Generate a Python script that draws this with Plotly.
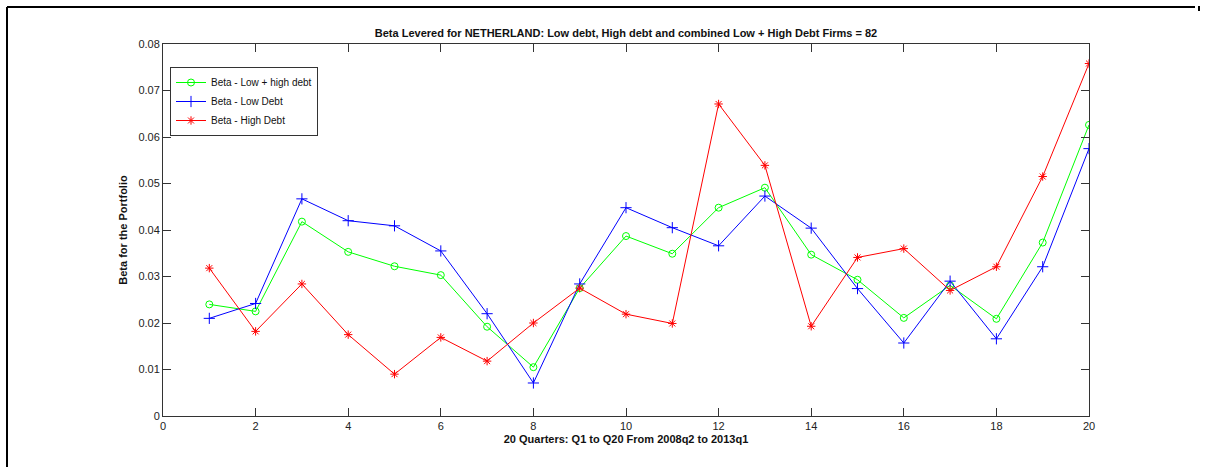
import plotly.graph_objects as go

quarters = list(range(1, 21))
beta_combined = [0.0240, 0.0225, 0.0418, 0.0353, 0.0322, 0.0303, 0.0192, 0.0105, 0.0275, 0.0387,
                 0.0349, 0.0448, 0.0491, 0.0347, 0.0293, 0.0211, 0.0281, 0.0209, 0.0373, 0.0626]
beta_low = [0.0210, 0.0242, 0.0467, 0.0420, 0.0409, 0.0355, 0.0220, 0.0071, 0.0284, 0.0448,
            0.0405, 0.0366, 0.0473, 0.0404, 0.0274, 0.0157, 0.0290, 0.0166, 0.0321, 0.0575]
beta_high = [0.0318, 0.0182, 0.0284, 0.0175, 0.0090, 0.0169, 0.0118, 0.0200, 0.0275, 0.0219,
             0.0199, 0.0671, 0.0539, 0.0193, 0.0341, 0.0360, 0.0270, 0.0321, 0.0515, 0.0758]
x_ticks = [0, 2, 4, 6, 8, 10, 12, 14, 16, 18, 20]
y_ticks = [0, 0.01, 0.02, 0.03, 0.04, 0.05, 0.06, 0.07, 0.08]

fig = go.Figure()
fig.add_trace(go.Scatter(x=quarters, y=beta_combined, mode="lines+markers", name="Beta - Low + high debt",
                         line=dict(color="#00ff00", width=1),
                         marker=dict(symbol="circle-open", size=7, color="#00ff00", line=dict(width=1, color="#00ff00"))))
fig.add_trace(go.Scatter(x=quarters, y=beta_low, mode="lines+markers", name="Beta - Low Debt",
                         line=dict(color="#0000ff", width=1),
                         marker=dict(symbol="cross-thin-open", size=8, color="#0000ff", line=dict(width=1, color="#0000ff"))))
fig.add_trace(go.Scatter(x=quarters, y=beta_high, mode="lines+markers", name="Beta - High Debt",
                         line=dict(color="#ff0000", width=1),
                         marker=dict(symbol="asterisk-open", size=7, color="#ff0000", line=dict(width=1, color="#ff0000"))))

narrow = "Liberation Sans Narrow, Arial Narrow, Liberation Sans, Arial, sans-serif"
axis_common = dict(showline=True, linecolor="#333333", linewidth=1, mirror="ticks", ticks="inside",
                   ticklen=8, tickcolor="#333333", showgrid=False, zeroline=False,
                   tickfont=dict(family="Liberation Sans, Arial, sans-serif", size=11, color="#222222"))

fig.update_layout(
    width=1205, height=467,
    paper_bgcolor="white", plot_bgcolor="white",
    margin=dict(l=163, r=116, t=44, b=51),
    title=dict(text="<b>Beta Levered for NETHERLAND: Low debt, High debt and combined Low + High Debt Firms = 82</b>",
               x=(163 + 1089) / 2 / 1205, xanchor="center", y=1 - 33 / 467, yanchor="middle",
               font=dict(family=narrow, size=11, color="#111111")),
    xaxis=dict(range=[0, 20], tickvals=x_ticks, ticktext=[str(v) for v in x_ticks],
               title=dict(text="<b>20 Quarters: Q1 to Q20 From 2008q2 to 2013q1</b>", standoff=4,
                          font=dict(family=narrow, size=11, color="#111111")),
               **axis_common),
    yaxis=dict(range=[0, 0.08], tickvals=y_ticks, ticktext=["0", "0.01", "0.02", "0.03", "0.04", "0.05", "0.06", "0.07", "0.08"],
               title=dict(text="<b>Beta for the Portfolio</b>", standoff=8,
                          font=dict(family=narrow, size=11, color="#111111")),
               **axis_common),
    legend=dict(x=7 / 926, y=1 - 23 / 372, xanchor="left", yanchor="top",
                bgcolor="white", bordercolor="#333333", borderwidth=1,
                font=dict(family="Liberation Sans, Arial, sans-serif", size=10, color="#111111"),
                tracegroupgap=0),
    showlegend=True,
)

# outer figure frame (MATLAB window border)
fig.add_shape(type="line", xref="paper", yref="paper", x0=(7 - 163) / 926, x1=(1195 - 163) / 926,
              y0=(416 - 7) / 372, y1=(416 - 7) / 372, line=dict(color="black", width=2))
fig.add_shape(type="line", xref="paper", yref="paper", x0=(7 - 163) / 926, x1=(7 - 163) / 926,
              y0=(416 - 7) / 372, y1=(416 - 467) / 372, line=dict(color="black", width=2))
fig.add_shape(type="line", xref="paper", yref="paper", x0=(1199 - 163) / 926, x1=(1199 - 163) / 926,
              y0=(416 - 6) / 372, y1=(416 - 11) / 372, line=dict(color="black", width=2))

fig.write_html("out.html")
